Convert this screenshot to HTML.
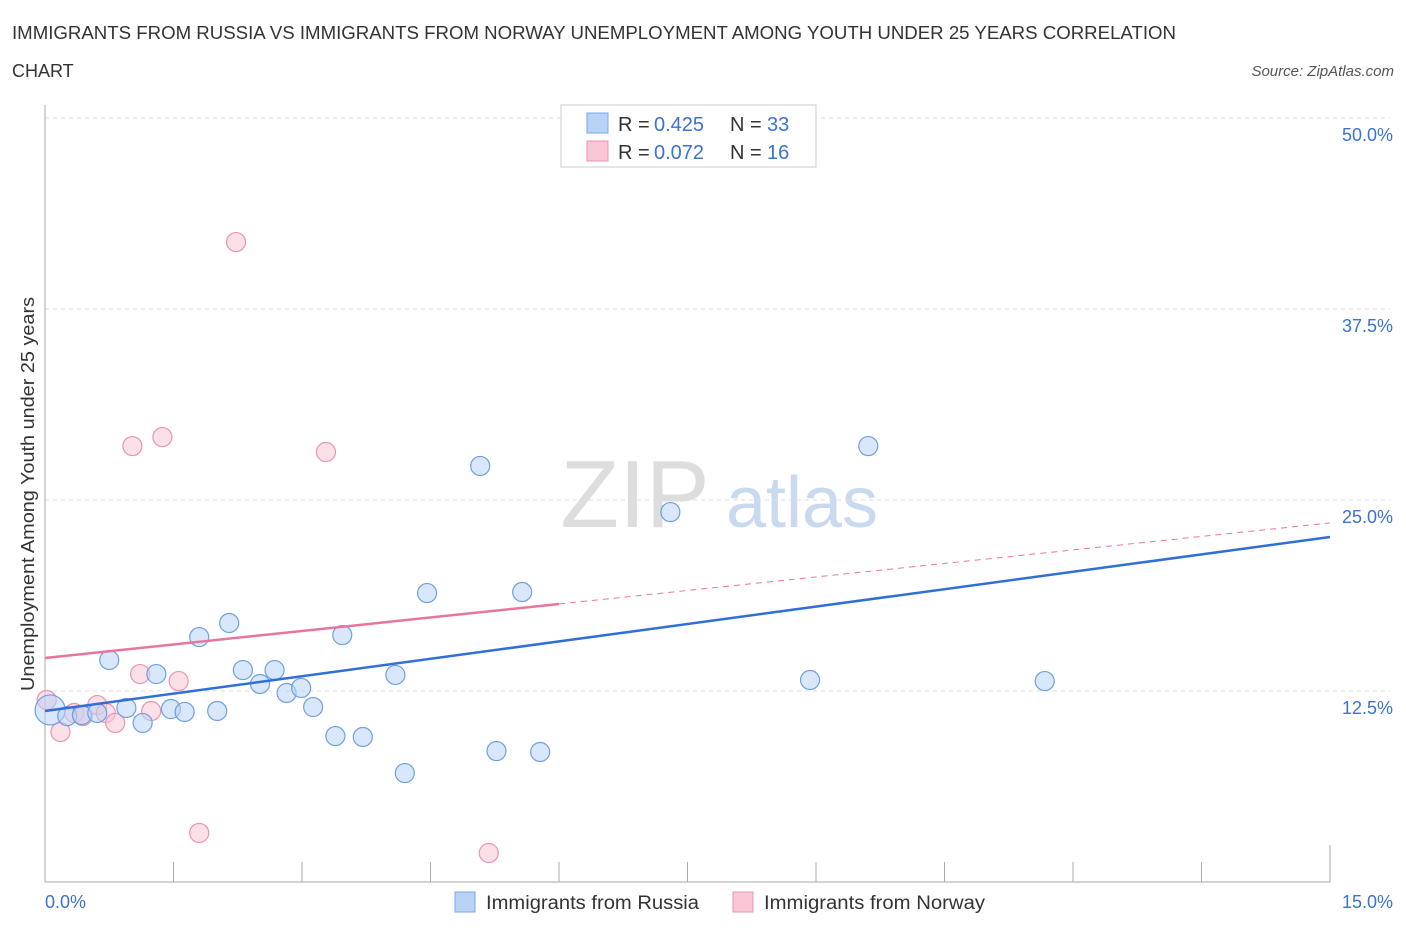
<!DOCTYPE html>
<html><head><meta charset="utf-8">
<style>
body{margin:0;background:#fff;font-family:"Liberation Sans",sans-serif;}
svg text{font-family:"Liberation Sans",sans-serif;}
</style></head>
<body>
<svg id="chart" width="1406" height="930" viewBox="0 0 1406 930">
<text x="12" y="39" font-size="18" fill="#333" textLength="1164" lengthAdjust="spacingAndGlyphs">IMMIGRANTS FROM RUSSIA VS IMMIGRANTS FROM NORWAY UNEMPLOYMENT AMONG YOUTH UNDER 25 YEARS CORRELATION</text>
<text x="12" y="77" font-size="18" fill="#333">CHART</text>
<text x="1394" y="76" font-size="15" fill="#555" font-style="italic" text-anchor="end">Source: ZipAtlas.com</text>
<text x="635" y="527" font-size="96" fill="#ddd" font-family="Liberation Serif" text-anchor="middle">ZIP</text>
<text x="802" y="527" font-size="72" fill="#c9d9ef" text-anchor="middle">atlas</text>
<g id="grid"></g>
<g id="axes"></g>
<g id="marks"></g>
<text transform="translate(34,494) rotate(-90)" font-size="18" fill="#333" text-anchor="middle" textLength="394" lengthAdjust="spacingAndGlyphs">Unemployment Among Youth under 25 years</text>
<g>
<rect x="561" y="105" width="255" height="62" fill="#fff" stroke="#ccc"/>
<rect x="587" y="113" width="21" height="20" fill="#b8d3f5" stroke="#7aa7e6"/>
<rect x="587" y="141" width="21" height="20" fill="#f9c6d6" stroke="#eb93b0"/>
<text x="618" y="131" font-size="20" fill="#333">R =</text>
<text x="654" y="131" font-size="20" fill="#3b73d1">0.425</text>
<text x="730" y="131" font-size="20" fill="#333">N =</text>
<text x="767" y="131" font-size="20" fill="#3b73d1">33</text>
<text x="618" y="159" font-size="20" fill="#333">R =</text>
<text x="654" y="159" font-size="20" fill="#3b73d1">0.072</text>
<text x="730" y="159" font-size="20" fill="#333">N =</text>
<text x="767" y="159" font-size="20" fill="#3b73d1">16</text>
</g>
<g>
<rect x="455" y="892" width="20" height="20" fill="#b8d3f5" stroke="#7aa7e6"/>
<text x="486" y="909" font-size="19" fill="#333" textLength="213" lengthAdjust="spacingAndGlyphs">Immigrants from Russia</text>
<rect x="733" y="892" width="20" height="20" fill="#f9c6d6" stroke="#eb93b0"/>
<text x="764" y="909" font-size="19" fill="#333" textLength="221" lengthAdjust="spacingAndGlyphs">Immigrants from Norway</text>
</g>
</svg>
<script>
const russiaX=[0.06,0.26,0.43,0.61,0.75,0.95,1.14,1.30,1.47,1.63,1.80,2.01,2.15,2.31,2.51,2.68,2.82,2.99,3.13,3.39,3.47,3.71,4.09,4.20,4.46,5.08,5.27,5.57,5.78,7.30,8.93,9.61,11.67];
const russiaY=[11.26,10.86,10.93,11.06,14.53,11.39,10.41,13.61,11.32,11.13,16.03,11.19,16.95,13.87,12.96,13.87,12.37,12.70,11.45,9.55,16.16,9.49,13.55,7.13,18.91,27.23,8.57,18.98,8.51,24.21,13.22,28.53,13.15];
const norwayX=[0.02,0.18,0.34,0.44,0.61,0.71,0.82,1.02,1.11,1.24,1.37,1.56,1.80,2.23,3.28,5.18];
const norwayY=[11.91,9.82,11.06,10.86,11.58,11.06,10.41,28.53,13.61,11.19,29.12,13.15,3.21,41.88,28.14,1.90];
const yTicks=[12.5,25.0,37.5,50.0];
const yTickLabels=["12.5%","25.0%","37.5%","50.0%"];
const xTicks=[0,1.5,3,4.5,6,7.5,9,10.5,12,13.5,15];
const russiaTrend=[11.19,22.58];
const norwayTrend=[14.66,23.5];
const norwaySolidEnd=6.0;

const NS="http://www.w3.org/2000/svg";
const X0=45,X1=1330,Y0=882,Y50=118;
const sx=v=>X0+(v/15)*(X1-X0);
const sy=v=>Y0-(v/50)*(Y0-Y50);
function mk(tag,attrs,parent){const e=document.createElementNS(NS,tag);for(const k in attrs)e.setAttribute(k,attrs[k]);parent.appendChild(e);return e;}
const grid=document.getElementById('grid'),axes=document.getElementById('axes'),marks=document.getElementById('marks');
yTicks.forEach((t,i)=>{
  const l=mk('line',{x1:X0,x2:X1+60,y1:sy(t),y2:sy(t),stroke:'#ddd','stroke-dasharray':'4,4'},grid);
  
  
  const tx=mk('text',{x:1393,y:sy(t)+23,'font-size':18,fill:'#3b73d1','text-anchor':'end'},axes);
  tx.textContent=yTickLabels[i];
  
  
});
const ax=mk('line',{x1:X0,x2:X0,y1:105,y2:Y0,stroke:'#aaa'},axes);


const bx=mk('line',{x1:X0,x2:X1,y1:Y0,y2:Y0,stroke:'#aaa'},axes);


xTicks.forEach(t=>{
  const l=mk('line',{x1:sx(t),x2:sx(t),y1:Y0,y2:t==15?845:862,stroke:'#aaa'},axes);
  
  
});
const xl0=mk('text',{x:45,y:908,'font-size':18,fill:'#3b73d1'},axes);xl0.textContent='0.0%';


const xl1=mk('text',{x:1393,y:908,'font-size':18,fill:'#3b73d1','text-anchor':'end'},axes);xl1.textContent='15.0%';



function pts(xs,ys,fill,stroke,name){
  xs.forEach((x,i)=>{
    const c=mk('circle',{cx:sx(x),cy:sy(ys[i]),r:(i==0&&name=='russia-point')?15:9.5,fill:fill,'fill-opacity':0.55,stroke:stroke,'stroke-width':1.2},marks);
    
    
  });
}
pts(norwayX,norwayY,'#f9c6d6','#eb93b0','norway-point');
pts(russiaX,russiaY,'#b8d3f5','#6f9fe0','russia-point');
const ns=norwayTrend[0]+(norwayTrend[1]-norwayTrend[0])*norwaySolidEnd/15;
const nd=mk('line',{x1:sx(norwaySolidEnd),y1:sy(ns),x2:sx(15),y2:sy(norwayTrend[1]),stroke:'#e8759c','stroke-width':1,'stroke-dasharray':'6,5'},marks);


const nl=mk('line',{x1:sx(0),y1:sy(norwayTrend[0]),x2:sx(norwaySolidEnd),y2:sy(ns),stroke:'#e8759c','stroke-width':2.5},marks);


const rl=mk('line',{x1:sx(0),y1:sy(russiaTrend[0]),x2:sx(15),y2:sy(russiaTrend[1]),stroke:'#2f6fd6','stroke-width':2.5},marks);


</script>
</body></html>
